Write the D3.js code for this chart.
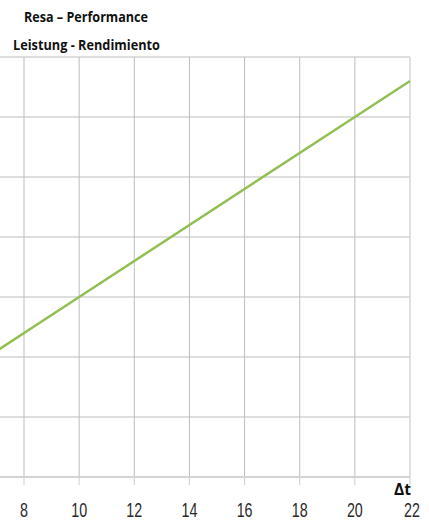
<!DOCTYPE html>
<html>
<head>
<meta charset="utf-8">
<script src="https://cdn.jsdelivr.net/npm/d3@7"></script>
<style>
  html, body { margin: 0; padding: 0; background: #fff; }
  svg { display: block; }
</style>
</head>
<body>
<svg id="chart" width="429" height="524"></svg>
<script>
// Data
const title1 = "Resa – Performance";
const title2 = "Leistung - Rendimiento";
const xLabel = "Δt";
const xTicks = [8, 10, 12, 14, 16, 18, 20, 22];
const yTicks = [0, 1, 2, 3, 4, 5, 6, 7];
const deltaT = [6, 10, 14, 20, 22];
const performance = [1.8, 3.0, 4.2, 6.0, 6.6];

const svg = d3.select("#chart");
const x = d3.scaleLinear().domain([8, 22]).range([24, 410]);
const y = d3.scaleLinear().domain([0, 7]).range([477, 57]);
const left = 0, right = x(22);
const font = "'Open Sans', 'Liberation Sans', Arial, sans-serif";
const fontDigits = "'Liberation Sans', Arial, sans-serif";

// horizontal grid
svg.append("g").selectAll("line").data(yTicks.filter(d => d > 0)).join("line")
  .attr("x1", left).attr("x2", right)
  .attr("y1", d => y(d)).attr("y2", d => y(d))
  .attr("stroke", "#bdbdbd").attr("stroke-width", 1);

// vertical grid
svg.append("g").selectAll("line").data(xTicks).join("line")
  .attr("x1", d => x(d)).attr("x2", d => x(d))
  .attr("y1", y(7)).attr("y2", y(0))
  .attr("stroke", d => d === 22 ? "#d6d6d6" : "#bdbdbd")
  .attr("stroke-width", d => d === 22 ? 1.5 : 1);

// x axis line and ticks
svg.append("line")
  .attr("x1", left).attr("x2", right)
  .attr("y1", y(0)).attr("y2", y(0))
  .attr("stroke", "#d3d3d3").attr("stroke-width", 2);
svg.append("g").selectAll("line").data(xTicks).join("line")
  .attr("x1", d => x(d)).attr("x2", d => x(d))
  .attr("y1", y(0)).attr("y2", y(0) + 8)
  .attr("stroke", "#cfcfcf").attr("stroke-width", 1);

// tick labels
svg.append("g").selectAll("text").data(xTicks).join("text")
  .attr("transform", d => `translate(${x(d) + (d === 22 ? 2 : 0)},517) scale(0.68,1)`)
  .attr("text-anchor", "middle")
  .attr("font-family", fontDigits)
  .attr("font-size", 21)
  .attr("fill", "#2a2a2a")
  .text(d => d);

// axis title
svg.append("text")
  .attr("x", 394).attr("y", 495)
  .attr("font-family", font)
  .attr("font-weight", "bold")
  .attr("font-size", 16)
  .attr("textLength", 17).attr("lengthAdjust", "spacingAndGlyphs")
  .attr("fill", "#111")
  .text(xLabel);

// line
const pts = deltaT.map((d, i) => [d, performance[i]]);
svg.append("path")
  .datum(pts)
  .attr("d", d3.line().x(d => x(d[0])).y(d => y(d[1])))
  .attr("fill", "none")
  .attr("stroke", "#92bf52")
  .attr("stroke-width", 2.5);

// titles
svg.append("text")
  .attr("x", 24).attr("y", 22)
  .attr("font-family", font)
  .attr("font-weight", "bold").attr("font-size", 14)
  .attr("textLength", 124).attr("lengthAdjust", "spacingAndGlyphs")
  .attr("fill", "#111")
  .text(title1);
svg.append("text")
  .attr("x", 13).attr("y", 50)
  .attr("font-family", font)
  .attr("font-weight", "bold").attr("font-size", 14)
  .attr("textLength", 147).attr("lengthAdjust", "spacingAndGlyphs")
  .attr("fill", "#111")
  .text(title2);
</script>
</body>
</html>
